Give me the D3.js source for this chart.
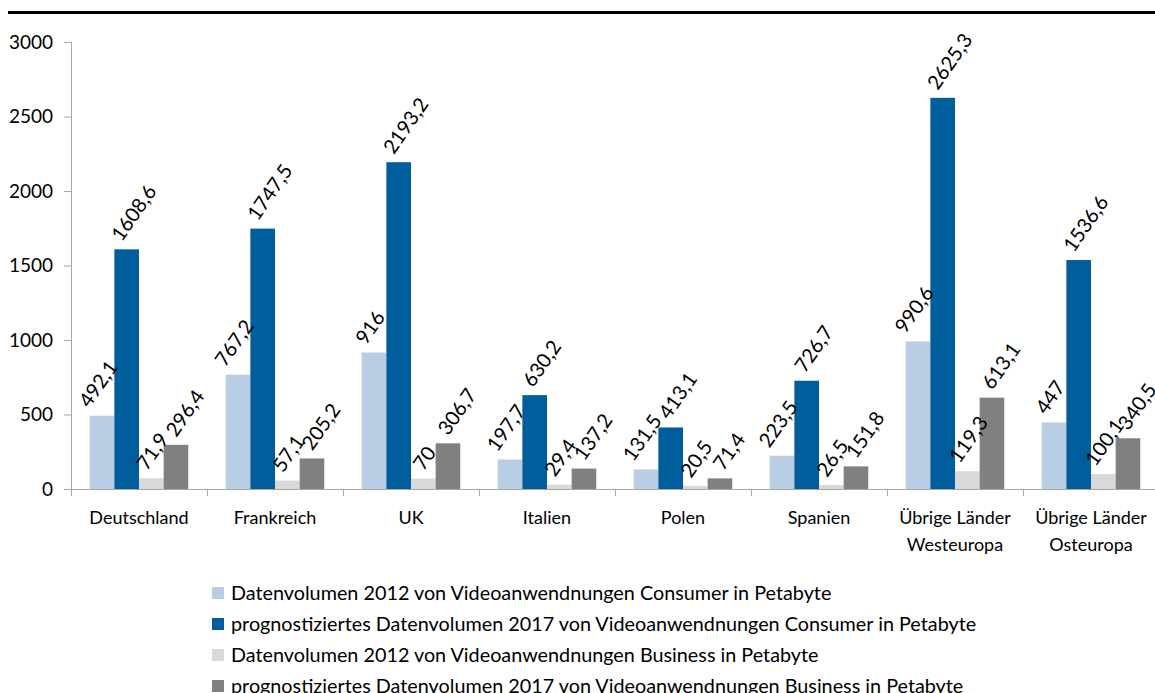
<!DOCTYPE html>
<html>
<head>
<meta charset="utf-8">
<script src="https://cdn.jsdelivr.net/npm/d3@7"></script>
<style>
  body { margin: 0; background: #fff; }
  svg { display: block; font-family: Lato, "DejaVu Sans", sans-serif; }
</style>
</head>
<body>
<div id="chart"></div>
<script>
// data
var categories = ["Deutschland", "Frankreich", "UK", "Italien", "Polen", "Spanien",
                  "Übrige Länder\nWesteuropa", "Übrige Länder\nOsteuropa"];
var consumer2012 = [492.1, 767.2, 916, 197.7, 131.5, 223.5, 990.6, 447];
var consumer2017 = [1608.6, 1747.5, 2193.2, 630.2, 413.1, 726.7, 2625.3, 1536.6];
var business2012 = [71.9, 57.1, 70, 29.4, 20.5, 26.5, 119.3, 100.1];
var business2017 = [296.4, 205.2, 306.7, 137.2, 71.4, 151.8, 613.1, 340.5];
var seriesNames = [
  "Datenvolumen 2012 von Videoanwendnungen Consumer in Petabyte",
  "prognostiziertes Datenvolumen 2017 von Videoanwendnungen Consumer in Petabyte",
  "Datenvolumen 2012 von Videoanwendnungen Business in Petabyte",
  "prognostiziertes Datenvolumen 2017 von Videoanwendnungen Business in Petabyte"
];
var colors = ["#b9cde5", "#015e9c", "#d9d9d9", "#808080"];
var yTicks = [0, 500, 1000, 1500, 2000, 2500, 3000];

var width = 1155, height = 693;
var plotLeft = 71, step = 136, plotTop = 42, plotBottom = 489;
// horizontal nudge of the rotated value labels, per series
var labelShift = [-4, 7, 1, 9];

var svg = d3.select("#chart")
  .append("svg")
    .attr("width", width)
    .attr("height", height);

// heavy rule at the top
svg.append("line")
  .attr("x1", 8).attr("x2", width)
  .attr("y1", 12.5).attr("y2", 12.5)
  .attr("stroke", "#000")
  .attr("stroke-width", 3);

var x0 = d3.scaleBand()
  .domain(categories)
  .range([plotLeft, plotLeft + step * categories.length])
  .padding(0);

var x1 = d3.scaleBand()
  .domain(d3.range(4))
  .range([0, step])
  .paddingInner(0)
  .paddingOuter(0.76);

var y = d3.scaleLinear()
  .domain([0, 3000])
  .range([plotBottom, plotTop]);

// y axis
var yAxis = svg.append("g")
  .attr("transform", "translate(" + plotLeft + ",0)")
  .call(d3.axisLeft(y).tickValues(yTicks).tickSize(7).tickPadding(11).tickFormat(d3.format("d")));
yAxis.selectAll("line, path").attr("stroke", "#a6a6a6");
yAxis.select(".domain").attr("d", "M0.5," + plotTop + "V" + plotBottom);
yAxis.selectAll("text").attr("font-size", 19).attr("fill", "#000").attr("font-family", "Lato");

// bars
var series = [consumer2012, consumer2017, business2012, business2017];
var rows = [];
categories.forEach(function(c, i) {
  series.forEach(function(s, j) {
    rows.push({cat: c, s: j, v: s[i]});
  });
});

svg.append("g")
  .selectAll("rect")
  .data(rows)
  .enter()
  .append("rect")
    .attr("x", d => x0(d.cat) + x1(d.s))
    .attr("y", d => y(d.v))
    .attr("width", x1.bandwidth())
    .attr("height", d => y(0) - y(d.v))
    .attr("fill", d => colors[d.s]);

// x axis: category boundaries as ticks
var xg = svg.append("g");
xg.append("line")
  .attr("x1", plotLeft).attr("x2", width)
  .attr("y1", plotBottom + 0.5).attr("y2", plotBottom + 0.5)
  .attr("stroke", "#a6a6a6");
xg.selectAll(".tk")
  .data(categories)
  .enter()
  .append("line")
    .attr("x1", d => x0(d) + 0.5).attr("x2", d => x0(d) + 0.5)
    .attr("y1", plotBottom).attr("y2", plotBottom + 7)
    .attr("stroke", "#a6a6a6");

xg.selectAll(".cat")
  .data(categories)
  .enter()
  .append("text")
    .attr("x", d => x0(d) + step / 2)
    .attr("y", 524)
    .attr("text-anchor", "middle")
    .attr("font-size", 18)
    .each(function(d) {
      var t = d3.select(this);
      d.split("\n").forEach(function(line, k) {
        t.append("tspan")
          .attr("x", x0(d) + step / 2)
          .attr("dy", k === 0 ? 0 : 27)
          .text(line);
      });
    });

// data labels, rotated
var angle = 55, rad = angle * Math.PI / 180;
var fmt = v => String(v).replace(".", ",");
svg.append("g")
  .selectAll("text")
  .data(rows)
  .enter()
  .append("text")
    .attr("text-anchor", "middle")
    .attr("dy", "0.36em")
    .attr("font-size", 20)
    .text(d => fmt(d.v))
    .attr("transform", function(d) {
      var L = this.getComputedTextLength();
      var H = L * Math.sin(rad) + 14 * Math.cos(rad);
      var cx = x0(d.cat) + x1(d.s) + x1.bandwidth() / 2 + labelShift[d.s];
      var cy = y(d.v) - 7 - H / 2;
      return "translate(" + cx + "," + cy + ") rotate(" + (-angle) + ")";
    });

// legend
var legend = svg.append("g")
  .selectAll("g")
  .data(seriesNames)
  .enter()
  .append("g")
    .attr("transform", (d, i) => "translate(212," + (593 + i * 31) + ")");
legend.append("rect")
  .attr("x", 0).attr("y", -6)
  .attr("width", 12).attr("height", 12)
  .attr("fill", (d, i) => colors[i]);
legend.append("text")
  .attr("x", 19)
  .attr("dy", "0.36em")
  .attr("font-size", 19.8)
  .text(d => d);
</script>
</body>
</html>
